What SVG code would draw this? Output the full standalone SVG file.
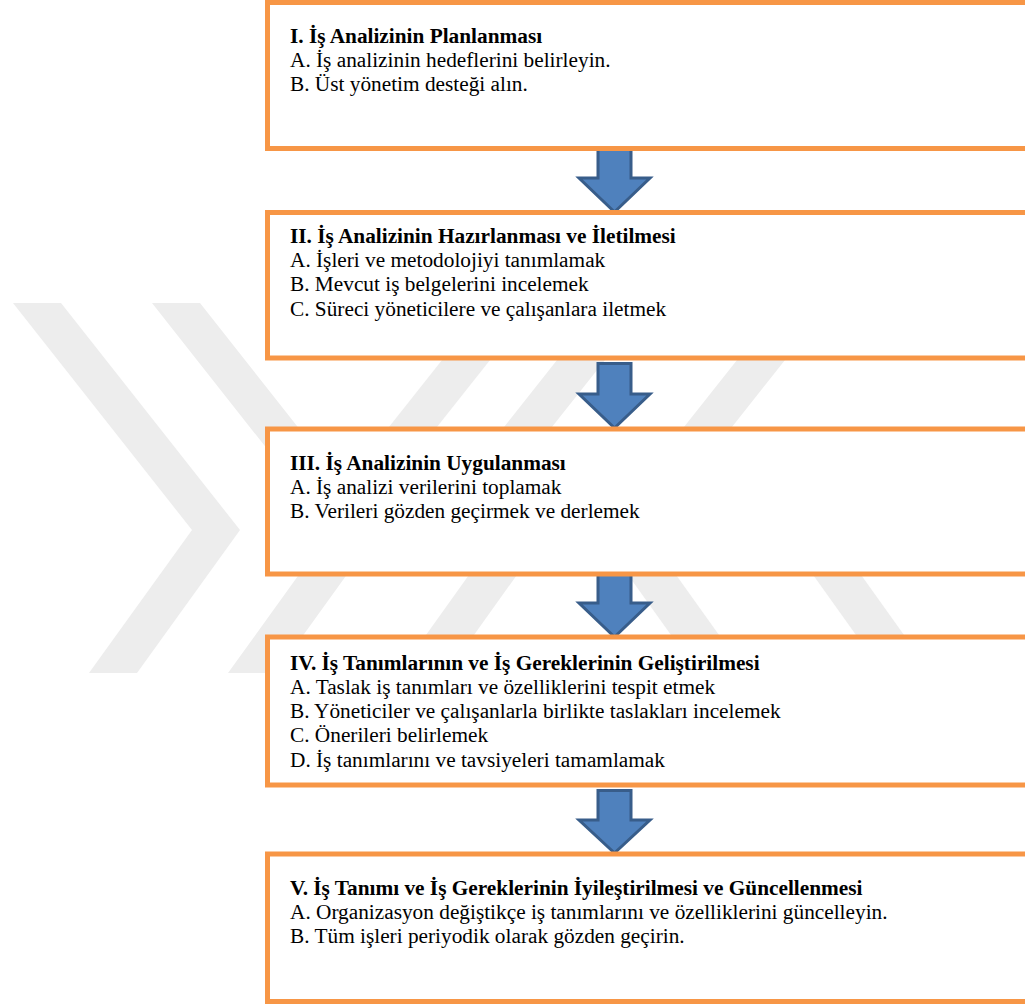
<svg xmlns="http://www.w3.org/2000/svg" width="1025" height="1005" viewBox="0 0 1025 1005">
  <defs>
    <style>
      .box { fill: #FFFFFF; stroke: #F79646; stroke-width: 5; }
      .arrow { fill: #4F81BD; stroke: #385D8A; stroke-width: 3; stroke-linejoin: miter; }
      .wm { fill: #EDEDED; }
      .t { font-size: 21.3px; fill: #000000; }
      .title { font-weight: bold; }
    </style>
  </defs>
  <rect x="0" y="0" width="1025" height="1005" fill="#FFFFFF"/>

  <g id="watermark">
    <polygon class="wm" points="13,303 61,303 240,530 137,673 89,673 192,530"/>
    <polygon class="wm" points="152,303 200,303 379,530 276,673 228,673 331,530"/>
    <polygon class="wm" points="446,355 494,355 433,432 385,432"/>
    <polygon class="wm" points="561,355 609,355 548,432 500,432"/>
    <polygon class="wm" points="741,355 789,355 728,432 680,432"/>
    <polygon class="wm" points="471,572 519,572 469,642 421,642"/>
    <polygon class="wm" points="626,572 674,572 724,642 676,642"/>
    <polygon class="wm" points="811,572 859,572 909,642 861,642"/>
  </g>

  <g id="connectors">
    <path class="arrow" d="M598,148.5 H631 V178 H650 L614.5,212 L579,178 H598 Z"/>
    <path class="arrow" d="M598,363.5 H631 V394 H650 L614.5,428 L579,394 H598 Z"/>
    <path class="arrow" d="M598,574.5 H631 V603 H650 L614.5,637 L579,603 H598 Z"/>
    <path class="arrow" d="M598,790.5 H631 V820 H650 L614.5,853 L579,820 H598 Z"/>
  </g>

  <g font-family="'Liberation Serif', 'Times New Roman', Times, 'DejaVu Serif', serif">
  <g id="node1">
    <rect class="box" x="267.5" y="2.5" width="800" height="146"/>
    <text class="t title" x="290" y="42.7">I. İş Analizinin Planlanması</text>
    <text class="t" x="290" y="66.7">A. İş analizinin hedeflerini belirleyin.</text>
    <text class="t" x="290" y="90.7">B. Üst yönetim desteği alın.</text>
  </g>

  <g id="node2">
    <rect class="box" x="267.5" y="212.5" width="800" height="145.5"/>
    <text class="t title" x="290" y="243.3">II. İş Analizinin Hazırlanması ve İletilmesi</text>
    <text class="t" x="290" y="267.3">A. İşleri ve metodolojiyi tanımlamak</text>
    <text class="t" x="290" y="291.3">B. Mevcut iş belgelerini incelemek</text>
    <text class="t" x="290" y="315.5">C. Süreci yöneticilere ve çalışanlara iletmek</text>
  </g>

  <g id="node3">
    <rect class="box" x="267.5" y="429" width="800" height="145"/>
    <text class="t title" x="290" y="470">III. İş Analizinin Uygulanması</text>
    <text class="t" x="290" y="494">A. İş analizi verilerini toplamak</text>
    <text class="t" x="290" y="518.2">B. Verileri gözden geçirmek ve derlemek</text>
  </g>

  <g id="node4">
    <rect class="box" x="267.5" y="637" width="800" height="148"/>
    <text class="t title" x="290" y="669.5">IV. İş Tanımlarının ve İş Gereklerinin Geliştirilmesi</text>
    <text class="t" x="290" y="693.8">A. Taslak iş tanımları ve özelliklerini tespit etmek</text>
    <text class="t" x="290" y="718">B. Yöneticiler ve çalışanlarla birlikte taslakları incelemek</text>
    <text class="t" x="290" y="742.4">C. Önerileri belirlemek</text>
    <text class="t" x="290" y="766.7">D. İş tanımlarını ve tavsiyeleri tamamlamak</text>
  </g>

  <g id="node5">
    <rect class="box" x="267.5" y="854" width="800" height="147.5"/>
    <text class="t title" x="290" y="895">V. İş Tanımı ve İş Gereklerinin İyileştirilmesi ve Güncellenmesi</text>
    <text class="t" x="290" y="919.3">A. Organizasyon değiştikçe iş tanımlarını ve özelliklerini güncelleyin.</text>
    <text class="t" x="290" y="943.3">B. Tüm işleri periyodik olarak gözden geçirin.</text>
  </g>
  </g>
</svg>
